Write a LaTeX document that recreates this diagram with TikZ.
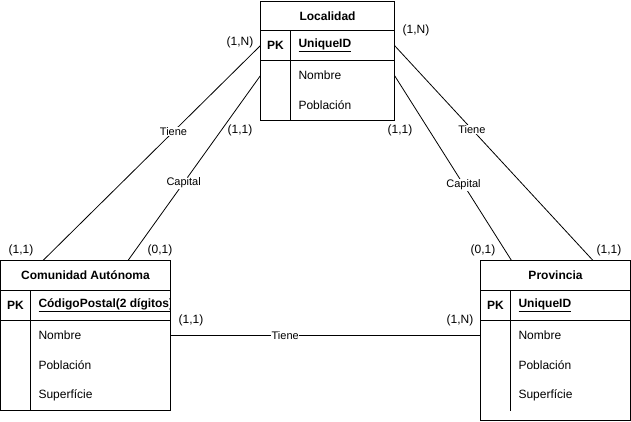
\documentclass[tikz,border=0pt]{standalone}
\usepackage{fontspec}
\setmainfont{Liberation Sans}
\begin{document}
\begin{tikzpicture}[x=1pt,y=-1pt,line width=1pt,
  ent/.style={draw=black,fill=white,inner sep=0pt,outer sep=0pt,anchor=north west},
  ttl/.style={inner sep=0pt,font=\fontsize{12}{14}\selectfont\bfseries},
  pk/.style={inner sep=0pt,font=\fontsize{12}{14}\selectfont\bfseries},
  key/.style={inner sep=0pt,anchor=west,font=\fontsize{12}{14}\selectfont\bfseries},
  attr/.style={inner sep=0pt,anchor=west,font=\fontsize{12}{14}\selectfont},
  card/.style={inner sep=0pt,font=\fontsize{12}{14}\selectfont},
  lbl/.style={fill=white,inner xsep=0.2pt,inner ysep=0.8pt,font=\fontsize{11}{13}\selectfont},
  conn/.style={draw=black,line width=0.8pt}]
\useasboundingbox (0,0) rectangle (631,421);

% Localidad
\node[ent,minimum width=134pt,minimum height=119pt] (loc) at (260.5,1) {};
\draw (260.5,30.5) -- (394.5,30.5);
\draw (260.5,60.5) -- (394.5,60.5);
\draw (290.5,30.5) -- (290.5,120);
\node[ttl] (loctitle) at (327.5,16) {Localidad};
\node[pk] (locpk) at (275.5,45.5) {PK};
\node[key] (locid) at (298,45.5) {\underline{UniqueID}};
\node[attr] (locnom) at (298,75.5) {Nombre};
\node[attr] (locpob) at (298,105.5) {Población};

% Comunidad Autonoma
\node[ent,minimum width=170pt,minimum height=150pt] (ca) at (0.5,260.5) {};
\draw (0.5,290.5) -- (170.5,290.5);
\draw (0.5,320.5) -- (170.5,320.5);
\draw (30.5,290.5) -- (30.5,410.5);
\node[ttl] (catitle) at (85.5,275.5) {Comunidad Autónoma};
\node[pk] (capk) at (15.5,305.5) {PK};
\begin{scope}
\clip (31,291) rectangle (170,320);
\node[key] (caid) at (38,305.5) {\underline{CódigoPostal(2 dígitos)}};
\end{scope}
\node[attr] (canom) at (38,335.5) {Nombre};
\node[attr] (capob) at (38,365.5) {Población};
\node[attr] (casup) at (38,395.5) {Superfície};

% Provincia
\node[ent,minimum width=150pt,minimum height=160pt] (prov) at (480.5,260.5) {};
\draw (480.5,290.5) -- (630.5,290.5);
\draw (480.5,320.5) -- (630.5,320.5);
\draw (510.5,290.5) -- (510.5,410.5);
\node[ttl] (provtitle) at (555.5,275.5) {Provincia};
\node[pk] (provpk) at (495.5,305.5) {PK};
\node[key] (provid) at (518,305.5) {\underline{UniqueID}};
\node[attr] (provnom) at (518,335.5) {Nombre};
\node[attr] (provpob) at (518,365.5) {Población};
\node[attr] (provsup) at (518,395.5) {Superfície};

% Connectors
\draw[conn] (loc.west |- locid) -- ([xshift=42.5pt]ca.north west) node[lbl,pos=0.4] {Tiene};
\draw[conn] (loc.west |- locnom) -- ([xshift=127.5pt]ca.north west) node[lbl,pos=0.58] {Capital};
\draw[conn] (loc.east |- locid) -- ([xshift=-37.5pt]prov.north east) node[lbl,pos=0.39] {Tiene};
\draw[conn] (loc.east |- locnom) -- ([xshift=31pt]prov.north west) node[lbl,pos=0.59] {Capital};
\draw[conn] (ca.east |- canom) -- (prov.west |- provnom) node[lbl,pos=0.37] {Tiene};

% Cardinalities
\node[card] (c1) at (240,42) {(1,N)};
\node[card] (c2) at (240,130) {(1,1)};
\node[card] (c3) at (416,30) {(1,N)};
\node[card] (c4) at (400,130) {(1,1)};
\node[card] (c5) at (21,250) {(1,1)};
\node[card] (c6) at (160,250) {(0,1)};
\node[card] (c7) at (483,250) {(0,1)};
\node[card] (c8) at (609,250) {(1,1)};
\node[card] (c9) at (191,320) {(1,1)};
\node[card] (c10) at (460,320) {(1,N)};
\end{tikzpicture}
\end{document}
